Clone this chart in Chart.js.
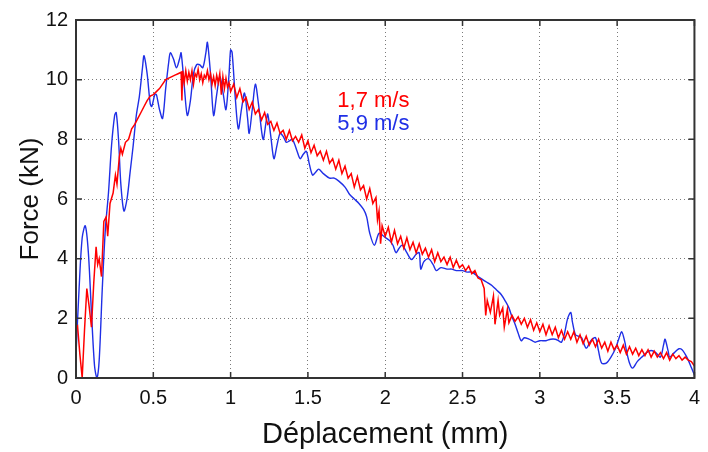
<!DOCTYPE html>
<html>
<head>
<meta charset="utf-8">
<title>Force - Déplacement</title>
<script src="https://cdn.jsdelivr.net/npm/chart.js@4.4.0/dist/chart.umd.min.js"></script>
<style>
    body { margin: 0; background: #ffffff; }
    #box { width: 708px; height: 452px; }
</style>
</head>
<body>
<div id="box"><canvas id="forceChart"></canvas></div>
<script>
// Values (x in mm, y in kN)
const xTicks = [0, 0.5, 1, 1.5, 2, 2.5, 3, 3.5, 4];
const yTicks = [0, 2, 4, 6, 8, 10, 12];
const seriesLabels = ['1,7 m/s', '5,9 m/s'];

// 1,7 m/s (red)
const redX = [0, 0.01, 0.025, 0.04, 0.055, 0.07, 0.085, 0.1, 0.115, 0.13, 0.14, 0.15, 0.165, 0.18, 0.195, 0.205, 0.22, 0.24, 0.255, 0.265,
    0.28, 0.29, 0.3, 0.32, 0.34, 0.36, 0.38, 0.4, 0.42, 0.44, 0.46, 0.48, 0.5, 0.52, 0.54, 0.56, 0.58, 0.6, 0.62, 0.64,
    0.66, 0.68, 0.685, 0.69, 0.7, 0.71, 0.72, 0.73, 0.74, 0.75, 0.76, 0.77, 0.78, 0.79, 0.8, 0.81, 0.82, 0.83, 0.84, 0.85,
    0.86, 0.87, 0.88, 0.89, 0.9, 0.91, 0.92, 0.93, 0.94, 0.95, 0.96, 0.97, 0.98, 0.99, 1.0, 1.02, 1.04, 1.06, 1.08, 1.1,
    1.12, 1.14, 1.16, 1.18, 1.2, 1.22, 1.24, 1.26, 1.28, 1.3, 1.32, 1.34, 1.36, 1.38, 1.4, 1.42, 1.44, 1.46, 1.48, 1.5,
    1.52, 1.54, 1.56, 1.58, 1.6, 1.62, 1.64, 1.66, 1.68, 1.7, 1.72, 1.74, 1.76, 1.78, 1.8, 1.82, 1.84, 1.86, 1.88, 1.9,
    1.92, 1.94, 1.95, 1.96, 1.97, 1.98, 2.0, 2.02, 2.04, 2.06, 2.08, 2.1, 2.12, 2.14, 2.16, 2.18, 2.2, 2.22, 2.24, 2.26,
    2.28, 2.3, 2.32, 2.34, 2.36, 2.38, 2.4, 2.42, 2.44, 2.46, 2.48, 2.5, 2.52, 2.54, 2.56, 2.58, 2.6, 2.62, 2.64, 2.65,
    2.66, 2.68, 2.7, 2.71, 2.73, 2.74, 2.76, 2.77, 2.79, 2.8, 2.82, 2.84, 2.86, 2.88, 2.9, 2.92, 2.94, 2.96, 2.98, 3.0,
    3.02, 3.04, 3.06, 3.08, 3.1, 3.12, 3.14, 3.16, 3.18, 3.2, 3.22, 3.24, 3.26, 3.28, 3.3, 3.32, 3.34, 3.36, 3.38, 3.4,
    3.42, 3.44, 3.46, 3.48, 3.5, 3.52, 3.54, 3.56, 3.58, 3.6, 3.62, 3.64, 3.66, 3.68, 3.7, 3.72, 3.74, 3.76, 3.78, 3.8,
    3.82, 3.84, 3.86, 3.88, 3.9, 3.92, 3.94, 3.96, 3.98, 4.0];
const redY = [1.7, 1.75, 0.8, 0.0, 1.6, 3.0, 2.4, 1.7, 3.2, 4.4, 3.8, 4.0, 3.4, 5.25, 5.4, 4.75, 5.85, 6.2, 6.8, 6.5,
    7.4, 7.7, 7.5, 7.9, 8.0, 8.35, 8.5, 8.7, 8.9, 9.1, 9.3, 9.45, 9.5, 9.6, 9.7, 9.85, 10.0, 10.05, 10.1, 10.15,
    10.2, 10.25, 9.3, 10.3, 9.9, 10.3, 9.95, 10.25, 10.0, 10.3, 9.85, 10.2, 10.1, 10.35, 10.0, 10.2, 9.9, 10.15, 10.05, 10.3,
    10.0, 10.2, 9.85, 10.1, 9.8, 10.15, 9.9, 10.2, 9.5, 10.1, 9.7, 10.05, 9.75, 9.9, 9.6, 9.85, 9.4, 9.7, 9.25, 9.4,
    9.0, 9.25, 8.85, 9.0, 8.65, 8.9, 8.5, 8.6, 8.3, 8.55, 8.2, 8.3, 8.0, 8.3, 7.95, 8.1, 7.9, 8.15, 7.7, 7.95,
    7.55, 7.8, 7.45, 7.6, 7.3, 7.6, 7.2, 7.35, 7.0, 7.3, 6.85, 7.1, 6.7, 6.85, 6.4, 6.75, 6.3, 6.45, 6.0, 6.35,
    5.85, 6.05, 5.3, 5.6, 4.5, 5.1, 4.75, 5.05, 4.55, 4.95, 4.5, 4.75, 4.35, 4.7, 4.3, 4.55, 4.2, 4.5, 4.15, 4.35,
    4.05, 4.3, 3.9, 4.2, 3.9, 4.05, 3.8, 4.05, 3.7, 3.95, 3.7, 3.8, 3.6, 3.75, 3.5, 3.6, 3.35, 3.3, 3.0, 2.1,
    2.6, 2.2, 2.75, 1.8, 2.6, 2.1, 2.35, 1.7, 2.3, 1.85, 2.1, 1.9, 2.05, 1.8, 2.0, 1.7, 1.95, 1.6, 1.85, 1.55,
    1.8, 1.45, 1.75, 1.45, 1.7, 1.35, 1.6, 1.3, 1.55, 1.3, 1.55, 1.2, 1.45, 1.15, 1.4, 1.1, 1.3, 1.05, 1.3, 1.0,
    1.2, 0.9, 1.2, 0.95, 1.1, 0.85, 1.1, 0.8, 1.05, 0.8, 1.0, 0.75, 0.95, 0.75, 0.95, 0.7, 0.9, 0.7, 0.85, 0.65,
    0.85, 0.6, 0.8, 0.65, 0.75, 0.6, 0.7, 0.6, 0.55, 0.4];

// 5,9 m/s (blue)
const blueX = [0, 0.02, 0.04, 0.06, 0.08, 0.1, 0.12, 0.135, 0.15, 0.17, 0.19, 0.21, 0.23, 0.25, 0.26, 0.275, 0.29, 0.31, 0.33, 0.35,
    0.37, 0.39, 0.41, 0.43, 0.44, 0.46, 0.48, 0.49, 0.51, 0.52, 0.54, 0.56, 0.58, 0.6, 0.61, 0.63, 0.65, 0.67, 0.68, 0.7,
    0.72, 0.74, 0.76, 0.78, 0.8, 0.82, 0.84, 0.85, 0.87, 0.89, 0.91, 0.93, 0.95, 0.97, 0.99, 1.0, 1.01, 1.03, 1.05, 1.07,
    1.09, 1.11, 1.12, 1.14, 1.16, 1.18, 1.21, 1.23, 1.24, 1.26, 1.28, 1.3, 1.32, 1.34, 1.36, 1.38, 1.4, 1.43, 1.45, 1.47,
    1.49, 1.51, 1.53, 1.55, 1.57, 1.6, 1.64, 1.67, 1.7, 1.74, 1.77, 1.8, 1.83, 1.86, 1.88, 1.9, 1.93, 1.96, 1.99, 2.03,
    2.05, 2.07, 2.09, 2.11, 2.14, 2.17, 2.2, 2.22, 2.23, 2.25, 2.28, 2.31, 2.33, 2.36, 2.4, 2.43, 2.46, 2.5, 2.53, 2.56,
    2.6, 2.63, 2.66, 2.69, 2.72, 2.75, 2.78, 2.8, 2.82, 2.84, 2.86, 2.88, 2.9, 2.93, 2.95, 2.97, 3.0, 3.04, 3.07, 3.1,
    3.12, 3.14, 3.16, 3.18, 3.2, 3.21, 3.23, 3.25, 3.27, 3.3, 3.33, 3.36, 3.38, 3.4, 3.43, 3.46, 3.49, 3.51, 3.53, 3.55,
    3.56, 3.58, 3.6, 3.63, 3.66, 3.69, 3.72, 3.75, 3.78, 3.8, 3.81, 3.83, 3.84, 3.87, 3.9, 3.92, 3.94, 3.96, 3.98, 4.0];
const blueY = [0.8, 3.0, 4.7, 5.1, 4.2, 2.2, 0.4, 0.0, 0.6, 3.0, 5.0, 6.2, 7.8, 8.8, 8.9, 8.0, 6.5, 5.6, 6.0, 6.9,
    7.8, 8.8, 9.45, 10.4, 10.8, 10.2, 9.2, 9.1, 9.5, 9.5, 9.0, 8.7, 9.7, 10.6, 10.9, 10.7, 10.4, 10.7, 10.9, 9.8,
    8.8, 9.3, 10.2, 10.5, 10.5, 10.4, 10.9, 11.25, 10.2, 8.8, 9.5, 10.1, 9.6, 9.0, 10.2, 11.0, 10.9, 9.4, 8.35, 9.0,
    9.55, 8.7, 8.2, 9.0, 9.85, 9.2, 8.0, 8.6, 8.85, 8.1, 7.35, 7.8, 8.2, 8.1, 7.9, 7.95, 8.0, 7.6, 7.35, 7.5,
    7.6, 7.15, 6.8, 6.9, 7.0, 6.85, 6.7, 6.7, 6.6, 6.4, 6.15, 6.0, 5.85, 5.65, 5.4, 4.85, 4.45, 4.85, 4.75, 4.6,
    4.45, 4.2, 4.35, 4.45, 4.2, 3.97, 4.15, 4.2, 3.65, 3.9, 4.0, 3.8, 3.6, 3.7, 3.65, 3.65, 3.6, 3.6, 3.55, 3.55,
    3.4, 3.3, 3.2, 3.1, 2.95, 2.8, 2.55, 2.35, 2.05, 1.8, 1.5, 1.25, 1.35, 1.3, 1.25, 1.2, 1.25, 1.25, 1.3, 1.3,
    1.25, 1.2, 1.5, 2.0, 2.2, 1.9, 1.45, 1.4, 1.35, 1.0, 1.25, 1.35, 0.9, 0.5, 0.5, 0.7, 1.0, 1.3, 1.55, 1.2,
    0.92, 0.5, 0.33, 0.55, 0.7, 0.85, 0.92, 0.85, 0.7, 1.1, 1.3, 0.9, 0.7, 0.85, 0.98, 0.95, 0.8, 0.6, 0.35, 0.1];

const redColor = '#ff0000';
const blueColor = '#1f2fe6';
const fontFamily = '"Liberation Sans", Arial, sans-serif';

// Turn two arrays into {x, y} points for a scatter dataset
function toPoints(xs, ys) {
    const pts = [];
    for (let i = 0; i < xs.length; i++) {
        pts.push({ x: xs[i], y: ys[i] });
    }
    return pts;
}

// Box around the plot with small inward ticks on every side, like the original
const frameAndTicks = {
    id: 'frameAndTicks',
    afterDatasetsDraw(chart) {
        const ctx = chart.ctx;
        const area = chart.chartArea;
        const xs = chart.scales.x;
        const ys = chart.scales.y;
        const len = 6;
        ctx.save();
        ctx.strokeStyle = '#333333';
        ctx.lineWidth = 1.5;
        ctx.beginPath();
        xTicks.forEach(function(v) {
            const px = xs.getPixelForValue(v);
            ctx.moveTo(px, area.bottom); ctx.lineTo(px, area.bottom - len);
            ctx.moveTo(px, area.top); ctx.lineTo(px, area.top + len);
        });
        yTicks.forEach(function(v) {
            const py = ys.getPixelForValue(v);
            ctx.moveTo(area.left, py); ctx.lineTo(area.left + len, py);
            ctx.moveTo(area.right, py); ctx.lineTo(area.right - len, py);
        });
        ctx.stroke();
        ctx.lineWidth = 2;
        ctx.strokeRect(area.left, area.top, area.right - area.left, area.bottom - area.top);
        ctx.restore();
    }
};

// Coloured labels inside the plot instead of a legend box
const inlineLabels = {
    id: 'inlineLabels',
    afterDraw(chart) {
        const ctx = chart.ctx;
        const xs = chart.scales.x;
        const ys = chart.scales.y;
        ctx.save();
        ctx.font = '22px ' + fontFamily;
        ctx.textAlign = 'left';
        ctx.textBaseline = 'alphabetic';
        const left = xs.getPixelForValue(1.69);
        ctx.fillStyle = redColor;
        ctx.fillText(seriesLabels[0], left, ys.getPixelForValue(9.1));
        ctx.fillStyle = blueColor;
        ctx.fillText(seriesLabels[1], left, ys.getPixelForValue(8.3));
        ctx.restore();
    }
};

const ctx = document.getElementById('forceChart').getContext('2d');

new Chart(ctx, {
    type: 'scatter',
    data: {
        datasets: [{
            label: seriesLabels[0],
            data: toPoints(redX, redY),
            borderColor: redColor,
            borderWidth: 1.5,
            showLine: true,
            pointRadius: 0,
            tension: 0,
            order: 0
        }, {
            label: seriesLabels[1],
            data: toPoints(blueX, blueY),
            borderColor: blueColor,
            borderWidth: 1.4,
            showLine: true,
            pointRadius: 0,
            tension: 0.3,
            order: 1
        }]
    },
    options: {
        responsive: true,
        maintainAspectRatio: false,
        animation: false,
        layout: { padding: { left: 0, right: 12, top: 12, bottom: 0 } },
        plugins: {
            legend: { display: false },
            tooltip: { enabled: false }
        },
        scales: {
            x: {
                type: 'linear',
                min: 0,
                max: 4,
                afterFit: function(scale) { scale.height = 74; },
                afterBuildTicks: function(scale) {
                    scale.ticks = xTicks.map(function(v) { return { value: v }; });
                },
                ticks: {
                    color: '#111111',
                    padding: 8,
                    callback: function(value) { return String(value); },
                    font: { size: 20, family: fontFamily }
                },
                grid: {
                    color: '#7a7a7a',
                    lineWidth: 1,
                    drawTicks: false
                },
                border: { display: false, dash: [1, 3] },
                title: {
                    display: true,
                    text: 'Déplacement (mm)',
                    color: '#111111',
                    padding: { top: 0, bottom: 0 },
                    font: { size: 29, family: fontFamily }
                }
            },
            y: {
                type: 'linear',
                min: 0,
                max: 12,
                afterFit: function(scale) { scale.width = 76; },
                afterBuildTicks: function(scale) {
                    scale.ticks = yTicks.map(function(v) { return { value: v }; });
                },
                ticks: {
                    color: '#111111',
                    padding: 8,
                    callback: function(value) { return String(value); },
                    font: { size: 20, family: fontFamily }
                },
                grid: {
                    color: '#7a7a7a',
                    lineWidth: 1,
                    drawTicks: false
                },
                border: { display: false, dash: [1, 3] },
                title: {
                    display: true,
                    text: 'Force (kN)',
                    color: '#111111',
                    padding: { top: 15, bottom: 0 },
                    font: { size: 26, family: fontFamily }
                }
            }
        }
    },
    plugins: [frameAndTicks, inlineLabels]
});
</script>
</body>
</html>
